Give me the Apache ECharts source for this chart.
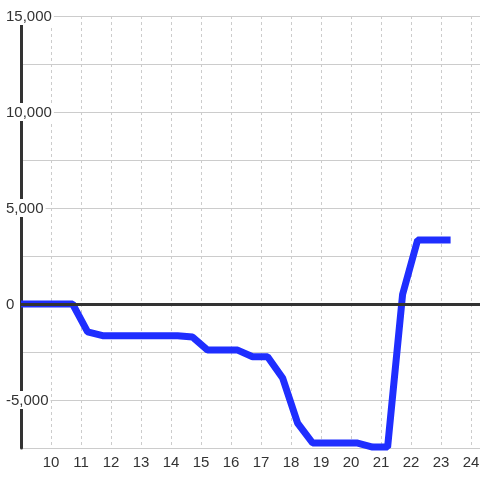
<!DOCTYPE html>
<html>
<head>
<meta charset="utf-8">
<script src="https://cdn.jsdelivr.net/npm/echarts@6/dist/echarts.min.js"></script>
<style>
  html, body { margin: 0; padding: 0; background: #fff; }
  #chart { width: 480px; height: 480px; }
</style>
</head>
<body>
<div id="chart"></div>
<script>
// hours (x) and values (y)
const hours = [9, 10.72, 11.22, 11.72, 14.22, 14.72, 15.22, 16.22, 16.72, 17.22, 17.72, 18.22, 18.72, 20.22, 20.72, 21.22, 21.72, 22.22, 23.32];
const values = [0, 0, -1450, -1650, -1650, -1720, -2400, -2400, -2750, -2750, -3850, -6200, -7240, -7240, -7450, -7450, 500, 3330, 3330];
const yLabelStep = 5000;

const chart = echarts.init(document.getElementById('chart'));

const option = {
  animation: false,
  textStyle: { fontFamily: 'Liberation Sans, Arial, sans-serif' },
  grid: { left: 21, top: 16, width: 480, height: 432, outerBoundsMode: 'none', containLabel: false },
  xAxis: {
    type: 'value',
    min: 9,
    max: 25,
    interval: 1,
    axisLine: { show: false },
    axisTick: { show: false },
    axisLabel: {
      showMinLabel: false,
      color: '#333',
      fontSize: 15,
      margin: 7
    },
    splitLine: {
      show: true,
      lineStyle: { color: '#ccc', width: 1, type: [3, 3] }
    }
  },
  yAxis: {
    type: 'value',
    min: -7500,
    max: 15000,
    interval: 2500,
    axisLine: { show: true, lineStyle: { color: '#333', width: 3 } },
    axisTick: { show: false },
    axisLabel: {
      align: 'left',
      margin: 15,
      formatter: function (v) {
        if (v % yLabelStep !== 0) return '';
        return '{a|' + v.toLocaleString('en-US') + '}';
      },
      rich: {
        a: {
          color: '#333',
          fontSize: 15,
          backgroundColor: '#fff',
          padding: [2, 2, 1, 0]
        }
      }
    },
    splitLine: { show: true, lineStyle: { color: '#ccc', width: 1 } }
  },
  series: [
    {
      type: 'line',
      data: [],
      z: 1,
      markLine: {
        silent: true,
        symbol: 'none',
        label: { show: false },
        lineStyle: { color: '#333', width: 3, type: 'solid' },
        data: [{ yAxis: 0 }]
      }
    },
    {
      type: 'line',
      z: 3,
      showSymbol: false,
      data: hours.map((h, i) => [h, values[i]]),
      lineStyle: { color: '#1f2eff', width: 7 },
      itemStyle: { color: '#1f2eff' }
    }
  ]
};

chart.setOption(option);
</script>
</body>
</html>
